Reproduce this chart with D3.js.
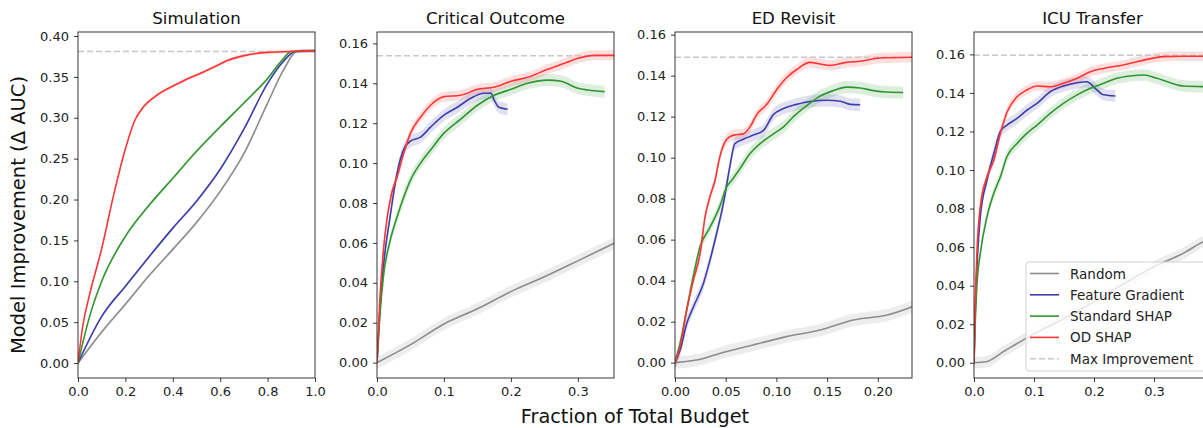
<!DOCTYPE html>
<html>
<head>
<meta charset="utf-8">
<script src="https://cdn.jsdelivr.net/npm/d3@7"></script>
<style>
  body { margin: 0; background: #fff; }
  svg { font-family: "DejaVu Sans", sans-serif; }
</style>
</head>
<body>
<div id="chart-area"></div>
<script>
// series names for the legend
var seriesNames = ["Random", "Feature Gradient", "Standard SHAP", "OD SHAP"]
var titles = ["Simulation", "Critical Outcome", "ED Revisit", "ICU Transfer"]

// Simulation
var simRandom = [[0,0],[0.1,0.038],[0.2,0.072],[0.3,0.107],[0.4,0.139],[0.5,0.172],[0.6,0.21],[0.7,0.256],[0.8,0.318],[0.87,0.36],[0.923,0.381],[1,0.382]]
var simGradient = [[0,0],[0.1,0.057],[0.2,0.094],[0.3,0.13],[0.4,0.165],[0.5,0.198],[0.6,0.237],[0.7,0.286],[0.8,0.342],[0.87,0.37],[0.916,0.381],[1,0.382]]
var simStandard = [[0,0],[0.05,0.058],[0.1,0.1],[0.2,0.155],[0.3,0.193],[0.4,0.226],[0.5,0.259],[0.6,0.289],[0.7,0.318],[0.8,0.348],[0.86,0.37],[0.9,0.381],[1,0.382]]
var simOD = [[0,0],[0.02,0.045],[0.05,0.085],[0.1,0.14],[0.15,0.205],[0.2,0.262],[0.24,0.297],[0.27,0.311],[0.325,0.326],[0.409,0.34],[0.45,0.346],[0.522,0.355],[0.58,0.363],[0.63,0.37],[0.7,0.376],[0.8,0.38],[0.9,0.381],[1,0.382]]

// Critical Outcome
var critRandom = [[0,0],[0.05,0.009],[0.1,0.0194],[0.15,0.027],[0.2,0.0356],[0.25,0.043],[0.3,0.051],[0.354,0.0598]]
var critGradient = [[0,0],[0.004,0.025],[0.0095,0.048],[0.0195,0.073],[0.03,0.095],[0.04,0.107],[0.05,0.111],[0.065,0.113],[0.08,0.118],[0.1,0.124],[0.12,0.128],[0.14,0.1325],[0.16,0.135],[0.17,0.135],[0.175,0.1316],[0.182,0.128],[0.195,0.127]]
var critStandard = [[0,0],[0.004,0.022],[0.0095,0.043],[0.0195,0.061],[0.03,0.073],[0.04,0.083],[0.05,0.0915],[0.065,0.1],[0.08,0.1066],[0.1,0.115],[0.125,0.122],[0.15,0.129],[0.175,0.134],[0.2,0.137],[0.225,0.14],[0.255,0.1416],[0.275,0.141],[0.3,0.1375],[0.315,0.1366],[0.34,0.1358]]
var critOD = [[0,0],[0.004,0.03],[0.0095,0.056],[0.0145,0.071],[0.022,0.085],[0.03,0.093],[0.04,0.105],[0.05,0.115],[0.065,0.123],[0.08,0.129],[0.1,0.1333],[0.125,0.134],[0.15,0.137],[0.175,0.138],[0.2,0.141],[0.225,0.143],[0.255,0.147],[0.28,0.15],[0.3,0.1525],[0.325,0.154],[0.355,0.154]]

// ED Revisit
var edRandom = [[0,0],[0.028,0.002],[0.044,0.0045],[0.077,0.0086],[0.11,0.0127],[0.143,0.0159],[0.176,0.0208],[0.209,0.0232],[0.234,0.0273]]
var edGradient = [[0,0],[0.005,0.006],[0.0115,0.019],[0.018,0.027],[0.028,0.0386],[0.0345,0.05],[0.041,0.063],[0.0477,0.0776],[0.054,0.0954],[0.059,0.1068],[0.0674,0.109],[0.0773,0.111],[0.0872,0.1133],[0.097,0.121],[0.107,0.124],[0.12,0.126],[0.133,0.1274],[0.15,0.128],[0.163,0.1275],[0.173,0.126],[0.1826,0.1258]]
var edStandard = [[0,0],[0.005,0.0094],[0.0115,0.0256],[0.018,0.042],[0.0247,0.0565],[0.0345,0.066],[0.044,0.076],[0.051,0.0857],[0.056,0.089],[0.064,0.0946],[0.074,0.102],[0.0839,0.1068],[0.097,0.1116],[0.107,0.115],[0.1168,0.12],[0.13,0.1254],[0.143,0.13],[0.156,0.1327],[0.169,0.1344],[0.1826,0.134],[0.1957,0.1327],[0.209,0.132],[0.225,0.1318]]
var edOD = [[0,0],[0.005,0.0078],[0.0115,0.0256],[0.018,0.04],[0.0247,0.053],[0.0296,0.071],[0.0345,0.081],[0.0395,0.089],[0.044,0.1],[0.051,0.109],[0.0576,0.111],[0.0674,0.1116],[0.074,0.115],[0.0806,0.121],[0.0905,0.126],[0.1,0.133],[0.11,0.139],[0.12,0.143],[0.133,0.1465],[0.143,0.1457],[0.153,0.145],[0.169,0.1465],[0.1826,0.147],[0.202,0.1486],[0.234,0.149]]

// ICU Transfer
var icuRandom = [[0,0],[0.02,0.0005],[0.05,0.006],[0.1,0.015],[0.15,0.023],[0.2,0.0317],[0.25,0.041],[0.3,0.0498],[0.35,0.057],[0.382,0.0628],[0.395,0.0645]]
var icuGradient = [[0,0],[0.002,0.025],[0.005,0.05],[0.0105,0.0758],[0.0217,0.0948],[0.033,0.1086],[0.044,0.12],[0.055,0.1233],[0.0717,0.1268],[0.088,0.131],[0.105,0.1346],[0.127,0.1406],[0.149,0.1436],[0.172,0.1453],[0.188,0.1458],[0.202,0.1424],[0.216,0.139],[0.2355,0.1384]]
var icuStandard = [[0,0],[0.002,0.02],[0.005,0.041],[0.0105,0.0567],[0.0217,0.0758],[0.033,0.0879],[0.044,0.0965],[0.055,0.107],[0.0717,0.1138],[0.088,0.119],[0.105,0.1233],[0.127,0.1294],[0.149,0.1346],[0.172,0.139],[0.194,0.1424],[0.216,0.145],[0.238,0.1476],[0.26,0.1488],[0.283,0.1493],[0.305,0.1476],[0.327,0.1453],[0.349,0.1436],[0.395,0.1432]]
var icuOD = [[0,0],[0.002,0.03],[0.005,0.058],[0.0105,0.081],[0.0217,0.0965],[0.033,0.105],[0.044,0.119],[0.055,0.13],[0.0717,0.138],[0.088,0.1415],[0.105,0.1436],[0.127,0.1432],[0.149,0.145],[0.172,0.1476],[0.194,0.151],[0.216,0.1527],[0.249,0.1545],[0.283,0.157],[0.316,0.1588],[0.349,0.159],[0.395,0.159]]

// max improvement per task
var maxImprovement = [0.381, 0.1538, 0.149, 0.1595]
// half width of the shaded band (random, gradient, standard, od)
var bandSim = [0.002, 0.002, 0.002, 0.002]
var bandCrit = [0.003, 0.003, 0.003, 0.0025]
var bandEd = [0.003, 0.003, 0.003, 0.0025]
var bandIcu = [0.003, 0.003, 0.003, 0.0025]

// axis ranges and ticks
var xDomains = [[0, 1.0], [0, 0.354], [0, 0.2337], [0, 0.395]]
var yDomains = [[-0.0183, 0.4049], [-0.0077, 0.1657], [-0.0075, 0.1613], [-0.0079, 0.1716]]
var xTickVals = [[0, 0.2, 0.4, 0.6, 0.8, 1.0], [0, 0.1, 0.2, 0.3], [0, 0.05, 0.1, 0.15, 0.2], [0, 0.1, 0.2, 0.3]]
var xTickFmt = [".1f", ".1f", ".2f", ".1f"]
var yTickVals = [
  [0, 0.05, 0.1, 0.15, 0.2, 0.25, 0.3, 0.35, 0.4],
  [0, 0.02, 0.04, 0.06, 0.08, 0.1, 0.12, 0.14, 0.16],
  [0, 0.02, 0.04, 0.06, 0.08, 0.1, 0.12, 0.14, 0.16],
  [0, 0.02, 0.04, 0.06, 0.08, 0.1, 0.12, 0.14, 0.16]
]

var panelSeries = [
  [simRandom, simGradient, simStandard, simOD],
  [critRandom, critGradient, critStandard, critOD],
  [edRandom, edGradient, edStandard, edOD],
  [icuRandom, icuGradient, icuStandard, icuOD]
]
var panelBands = [bandSim, bandCrit, bandEd, bandIcu]

var colors = ["#8c8c8c", "#3d3dab", "#2f962f", "#ff3434"]

var W = 1203, H = 428
var panelLeft = [78, 377, 675, 974]
var pw = 237, plotTop = 32, plotBottom = 378

var svg = d3.select("#chart-area")
  .append("svg")
  .attr("width", W)
  .attr("height", H)

panelSeries.forEach(function(series, p) {
  var g = svg.append("g")
    .attr("transform", "translate(" + panelLeft[p] + ",0)")

  var x = d3.scaleLinear()
    .domain(xDomains[p])
    .range([0, pw])
  var y = d3.scaleLinear()
    .domain(yDomains[p])
    .range([plotBottom, plotTop])

  g.append("clipPath")
    .attr("id", "clip" + p)
    .append("rect")
    .attr("x", 0).attr("y", plotTop)
    .attr("width", pw).attr("height", plotBottom - plotTop)

  var plot = g.append("g").attr("clip-path", "url(#clip" + p + ")")

  var area = d3.area()
    .x(function(d) { return x(d[0]) })
    .curve(d3.curveMonotoneX)
  var line = d3.line()
    .x(function(d) { return x(d[0]) })
    .y(function(d) { return y(d[1]) })
    .curve(d3.curveMonotoneX)

  // bands
  series.forEach(function(s, i) {
    var hw = panelBands[p][i]
    plot.append("path")
      .datum(s)
      .attr("d", area.y0(function(d) { return y(d[1] - hw) }).y1(function(d) { return y(d[1] + hw) }))
      .attr("fill", colors[i])
      .attr("fill-opacity", 0.16)
  })

  // max improvement line
  plot.append("line")
    .attr("x1", 0).attr("x2", pw)
    .attr("y1", y(maxImprovement[p])).attr("y2", y(maxImprovement[p]))
    .attr("stroke", "#c8c8c8")
    .attr("stroke-width", 1.5)
    .attr("stroke-dasharray", "6,3")

  series.forEach(function(s, i) {
    plot.append("path")
      .datum(s)
      .attr("d", line)
      .attr("fill", "none")
      .attr("stroke", colors[i])
      .attr("stroke-width", 1.6)
  })

  // axes
  var xAxis = d3.axisBottom(x).tickValues(xTickVals[p]).tickFormat(d3.format(xTickFmt[p]))
    .tickSize(4).tickPadding(5)
  var yAxis = d3.axisLeft(y).tickValues(yTickVals[p]).tickFormat(d3.format(".2f"))
    .tickSize(4).tickPadding(5)

  var gx = g.append("g").attr("transform", "translate(0," + plotBottom + ")").call(xAxis)
  var gy = g.append("g").call(yAxis)
  ;[gx, gy].forEach(function(a) {
    a.select(".domain").remove()
    a.selectAll("line").attr("stroke", "#222").attr("stroke-width", 0.9)
    a.selectAll("text").attr("font-size", 13).attr("fill", "#222").attr("font-family", "DejaVu Sans")
  })

  // frame
  g.append("rect")
    .attr("x", 0).attr("y", plotTop)
    .attr("width", pw).attr("height", plotBottom - plotTop)
    .attr("fill", "none")
    .attr("stroke", "#222")
    .attr("stroke-width", 0.9)

  g.append("text")
    .attr("x", pw / 2).attr("y", 24)
    .attr("text-anchor", "middle")
    .attr("font-size", 16.6)
    .attr("fill", "#111")
    .text(titles[p])
})

svg.append("text")
  .attr("transform", "translate(25,215) rotate(-90)")
  .attr("text-anchor", "middle")
  .attr("font-size", 19.5)
  .attr("fill", "#111")
  .text("Model Improvement (Δ AUC)")

svg.append("text")
  .attr("x", 635).attr("y", 423)
  .attr("text-anchor", "middle")
  .attr("font-size", 19.3)
  .attr("fill", "#111")
  .text("Fraction of Total Budget")

// legend in the last panel
var legend = svg.append("g").attr("transform", "translate(1026,262)")
legend.append("rect")
  .attr("width", 190).attr("height", 109)
  .attr("rx", 3)
  .attr("fill", "#fff").attr("fill-opacity", 0.8)
  .attr("stroke", "#d0d0d0")

var legendNames = seriesNames.concat(["Max Improvement"])
var legendColors = colors.concat(["#c8c8c8"])
legendNames.forEach(function(name, i) {
  var ly = 11.5 + i * 21.3
  legend.append("line")
    .attr("x1", 4).attr("x2", 33)
    .attr("y1", ly).attr("y2", ly)
    .attr("stroke", legendColors[i])
    .attr("stroke-width", 1.6)
    .attr("stroke-dasharray", i == 4 ? "6,3" : null)
  legend.append("text")
    .attr("x", 44).attr("y", ly + 5)
    .attr("font-size", 13.5)
    .attr("fill", "#222")
    .text(name)
})
</script>
</body>
</html>
